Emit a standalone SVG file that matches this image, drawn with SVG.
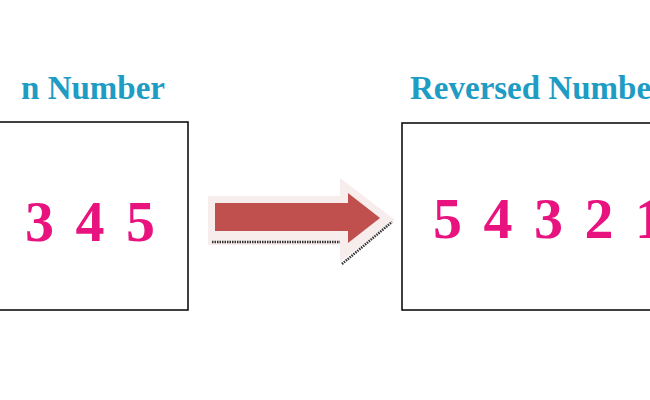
<svg xmlns="http://www.w3.org/2000/svg" width="650" height="400" viewBox="0 0 650 400">
<style>
.t{font-family:"Liberation Serif",serif;font-weight:bold;font-size:33px;fill:#1e9cc4}
.d{font-family:"Liberation Serif",serif;font-weight:bold;font-size:58px;fill:#e8137f}
.b{fill:#fff;stroke:#000;stroke-width:1.5}
</style>
<rect width="650" height="400" fill="#fff"/>
<g id="left">
<text class="t" x="165" y="99" text-anchor="end">n Number</text>
<rect class="b" x="-10" y="122" width="198" height="188"/>
<text class="d" x="155" y="241" text-anchor="end" word-spacing="7">3 4 5</text>
</g>
<g id="right">
<text class="t" x="410" y="99">Reversed Number</text>
<rect class="b" x="402" y="123" width="260" height="187"/>
<text class="d" x="433" y="238" word-spacing="7">5 4 3 2 1</text>
</g>
<g id="connectors">
<polygon points="208,196 340,196 340,178 395,220 340,262 340,245 208,245" fill="#f7eded"/>
<polygon points="215,203 348,203 348,193 380,218 348,243 348,231 215,231" fill="#c0504d"/>
<line x1="212" y1="242" x2="340" y2="242" stroke="#333" stroke-width="2.5" stroke-dasharray="1.5 1"/>
<line x1="342" y1="264" x2="392" y2="222" stroke="#333" stroke-width="2.5" stroke-dasharray="1.5 1"/>
</g>
</svg>
